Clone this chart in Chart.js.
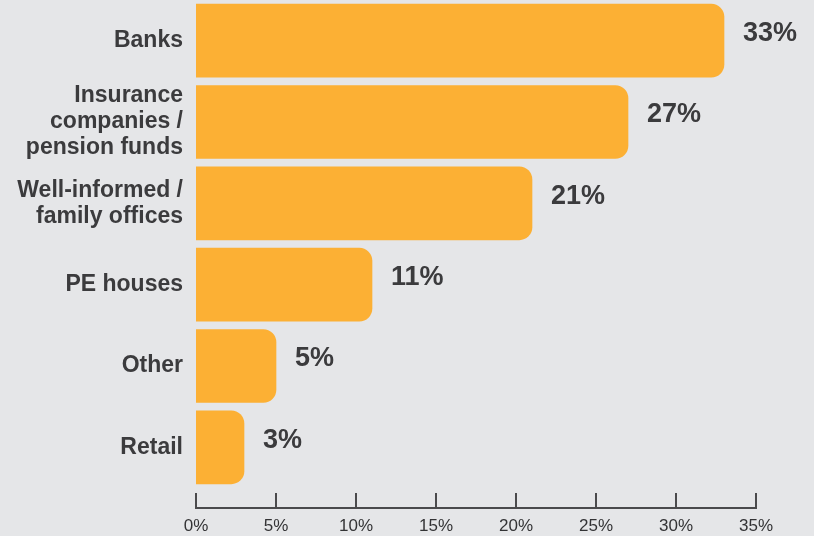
<!DOCTYPE html>
<html>
<head>
<meta charset="utf-8">
<script src="https://cdn.jsdelivr.net/npm/chart.js@4"></script>
<style>
  html, body { margin: 0; padding: 0; background: #e5e6e8; }
  #wrap { width: 814px; height: 536px; }
</style>
</head>
<body>
<div id="wrap"><canvas id="grafico" width="814" height="536"></canvas></div>
<script>
// investor types and their share (%)
const categorias = [
  "Banks",
  ["Insurance", "companies /", "pension funds"],
  ["Well-informed /", "family offices"],
  "PE houses",
  "Other",
  "Retail"
];
const valores = [33, 27, 21, 11, 5, 3];
const ticksX = [0, 5, 10, 15, 20, 25, 30, 35];

const LARANJA = "#fcb034";
const TEXTO = "#3b3b3d";

// bottom axis: line with tick marks pointing up
const eixoX = {
  id: "eixoX",
  afterDraw(chart) {
    const x = chart.scales.x;
    const ctx = chart.ctx;
    const yLinha = chart.chartArea.bottom + 20;
    ctx.save();
    ctx.strokeStyle = "#4a4a4c";
    ctx.lineWidth = 2;
    ctx.beginPath();
    ctx.moveTo(x.getPixelForValue(ticksX[0]) - 1, yLinha);
    ctx.lineTo(x.getPixelForValue(ticksX[ticksX.length - 1]) + 1, yLinha);
    ticksX.forEach(v => {
      const px = x.getPixelForValue(v);
      ctx.moveTo(px, yLinha);
      ctx.lineTo(px, yLinha - 15);
    });
    ctx.stroke();
    ctx.restore();
  }
};

// percentage next to each bar
const rotulos = {
  id: "rotulos",
  afterDatasetsDraw(chart) {
    const ctx = chart.ctx;
    const meta = chart.getDatasetMeta(0);
    ctx.save();
    ctx.font = "bold 27px 'Liberation Sans', Arial, sans-serif";
    ctx.fillStyle = TEXTO;
    ctx.textAlign = "left";
    ctx.textBaseline = "middle";
    meta.data.forEach((bar, i) => {
      ctx.fillText(valores[i] + "%", bar.x + 19, bar.y - 7);
    });
    ctx.restore();
  }
};

const grafico = new Chart(document.getElementById("grafico"), {
  type: "bar",
  data: {
    labels: categorias,
    datasets: [{
      data: valores,
      backgroundColor: LARANJA,
      borderWidth: 0,
      borderRadius: 13,
      barThickness: 73
    }]
  },
  options: {
    indexAxis: "y",
    responsive: false,
    animation: false,
    layout: { padding: { top: 0, right: 58, bottom: 0, left: 0 } },
    plugins: {
      legend: { display: false },
      tooltip: { enabled: false }
    },
    scales: {
      x: {
        min: 0,
        max: 35,
        afterFit(s) { s.height = 48; s.paddingLeft = 0; s.paddingRight = 0; },
        afterBuildTicks(s) { s.ticks = ticksX.map(v => ({ value: v })); },
        grid: { display: false, drawTicks: false },
        border: { display: false },
        ticks: {
          padding: 28,
          color: "#333335",
          font: { family: "'Liberation Sans', Arial, sans-serif", size: 17 },
          callback: v => v + "%"
        }
      },
      y: {
        afterFit(s) { s.width = 196; s.paddingTop = 0; s.paddingBottom = 0; },
        grid: { display: false, drawTicks: false },
        border: { display: false },
        ticks: {
          autoSkip: false,
          padding: 13,
          color: TEXTO,
          font: { family: "'Liberation Sans', Arial, sans-serif", size: 23, weight: "bold", lineHeight: 1.13 }
        }
      }
    }
  },
  plugins: [eixoX, rotulos]
});
</script>
</body>
</html>
